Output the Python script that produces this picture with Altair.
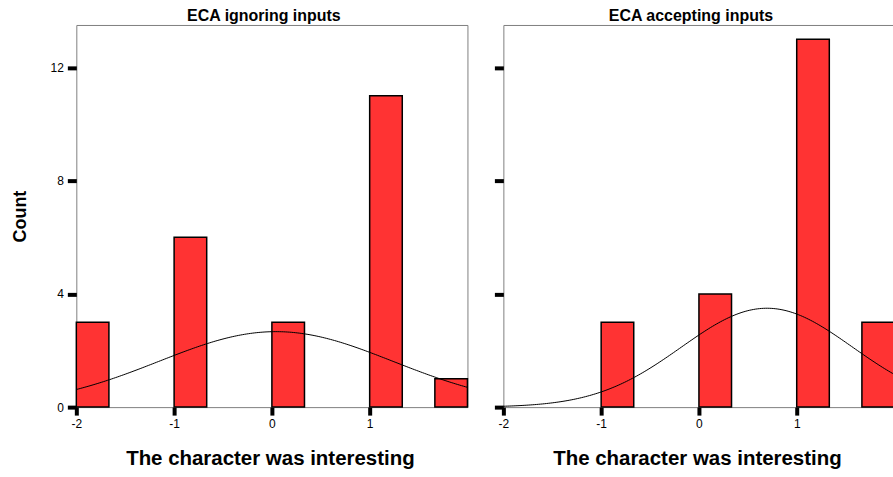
import altair as alt
import numpy as np
import pandas as pd

# Response scale and histogram counts for the two conditions
scores = [-2, -1, 0, 1, 2]
counts_ignoring = [3, 6, 3, 11, 1]
counts_accepting = [0, 3, 4, 13, 3]
panel_titles = ["ECA ignoring inputs", "ECA accepting inputs"]
x_ticks = [-2, -1, 0, 1]
y_ticks = [0, 4, 8, 12]
x_title = "The character was interesting"
y_title = "Count"

X_MIN, X_MAX = -2.0, 2.0
Y_MAX = 13.5
BAR_W = 1.0 / 3.0          # width of each histogram bar in score units
FONT = "Liberation Sans"
RED = "#ff3333"
PLAIN_LABEL = "'' + datum.value"   # hyphen-minus instead of the typographic minus


def bar_table(counts):
    rows = []
    for s, c in zip(scores, counts):
        if c == 0:
            continue
        x0 = min(s, X_MAX - BAR_W)
        rows.append({"x": x0, "x2": x0 + BAR_W, "count": c})
    return pd.DataFrame(rows)


def normal_table(counts):
    # fitted normal curve, scaled to the histogram (N * bar width * pdf)
    v = np.repeat(scores, counts).astype(float)
    n = len(v)
    mu = v.mean()
    sd = v.std(ddof=1)
    grid = np.linspace(X_MIN, X_MAX, 201)
    dens = n * BAR_W * np.exp(-0.5 * ((grid - mu) / sd) ** 2) / (sd * np.sqrt(2 * np.pi))
    return pd.DataFrame({"x": grid, "count": dens})


def panel(counts, title, first):
    x_axis = alt.Axis(
        values=x_ticks, labelExpr=PLAIN_LABEL, grid=False, domain=False,
        labelFont=FONT, labelFontSize=12, labelColor="black", labelFlush=False,
        labelPadding=3, tickSize=8, tickWidth=4, tickColor="black",
        title=x_title, titleFont=FONT, titleFontSize=20.5, titleFontWeight="bold",
        titleColor="black", titleY=58, titleX=194, titleBaseline="alphabetic",
        titleAlign="center",
    )
    y_axis = alt.Axis(
        values=y_ticks, labelExpr=PLAIN_LABEL, grid=False, domain=False,
        labels=first,
        labelFont=FONT, labelFontSize=12, labelColor="black", labelFlush=False,
        labelPadding=4, tickSize=9, tickWidth=4, tickColor="black",
        title=y_title if first else "", titleFont=FONT, titleFontSize=18,
        titleFontWeight="bold", titleColor="black", titleAngle=270,
        titleX=-56, titleY=191.5, titleBaseline="middle", titleAlign="center",
    )
    xs = alt.Scale(domain=[X_MIN, X_MAX], nice=False, zero=False)
    ys = alt.Scale(domain=[0, Y_MAX], nice=False)

    bars = alt.Chart(bar_table(counts)).mark_bar(
        fill=RED, stroke="black", strokeWidth=1.5
    ).encode(
        x=alt.X("x:Q", scale=xs, axis=x_axis),
        x2="x2:Q",
        y=alt.Y("count:Q", scale=ys, axis=y_axis),
        y2=alt.datum(0),
    )
    curve = alt.Chart(normal_table(counts)).mark_line(
        color="black", strokeWidth=1, clip=True
    ).encode(
        x=alt.X("x:Q", scale=xs, axis=x_axis),
        y=alt.Y("count:Q", scale=ys, axis=y_axis),
    )
    return alt.layer(bars, curve).properties(
        width=392, height=383,
        title=alt.Title(
            title, font=FONT, fontSize=16, fontWeight="bold", color="black",
            offset=-12, baseline="alphabetic", anchor="middle", dx=-8,
        ),
    )


# the right edge of the second panel runs just past the page edge
chart = alt.hconcat(
    panel(counts_ignoring, panel_titles[0], True),
    panel(counts_accepting, panel_titles[1], False),
    spacing=36, bounds="flush",
).configure_view(
    stroke="#808080", strokeWidth=1
).properties(
    background="white",
    padding={"left": 10.5, "top": 6.5, "right": -3.5, "bottom": 4},
)

chart.save("out.html", embed_options={"renderer": "svg", "actions": False})
